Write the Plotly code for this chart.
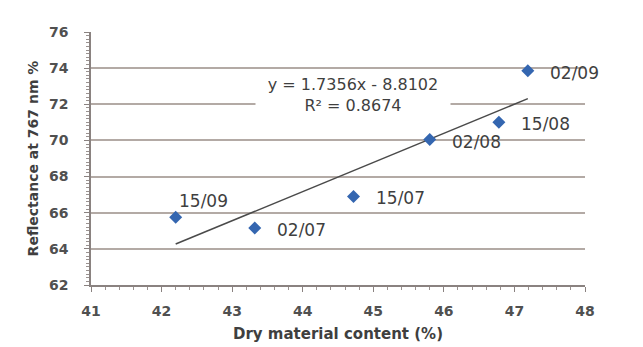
import numpy as np
import plotly.graph_objects as go

# Data
dates = ["15/09", "02/07", "15/07", "02/08", "15/08", "02/09"]
dry_matter = [42.2, 43.32, 44.72, 45.8, 46.78, 47.19]
reflectance = [65.75, 65.15, 66.9, 70.05, 71.0, 73.85]
label_side = ["above", "right", "right", "right", "right", "right"]
equation_text = "y = 1.7356x - 8.8102"
r2_text = "R² = 0.8674"
x_ticks = [41, 42, 43, 44, 45, 46, 47, 48]
y_ticks = [62, 64, 66, 68, 70, 72, 74, 76]

# Linear trend line computed from the data
slope, intercept = np.polyfit(dry_matter, reflectance, 1)
trend_x = [min(dry_matter), max(dry_matter)]
trend_y = [slope * v + intercept for v in trend_x]

text_color = "#3f3f3f"
font_family = "DejaVu Sans"

fig = go.Figure()
fig.add_trace(go.Scatter(
    x=trend_x, y=trend_y, mode="lines",
    line=dict(color="#4a4a4a", width=1.5),
    showlegend=False, hoverinfo="skip",
))
fig.add_trace(go.Scatter(
    x=dry_matter, y=reflectance, mode="markers",
    marker=dict(symbol="diamond", size=10, color="#3466b0"),
    showlegend=False,
))

# point labels
shifts = {"above": (1, 16), "right": (20, -2)}
for xv, yv, lab, side in zip(dry_matter, reflectance, dates, label_side):
    dx, dy = shifts[side]
    fig.add_annotation(
        x=xv, y=yv, xref="x", yref="y", text=lab, showarrow=False,
        xanchor="left", yanchor="middle", xshift=dx, yshift=dy,
        font=dict(family=font_family, size=17, color=text_color),
    )

# regression equation box (white background hides gridline)
fig.add_annotation(
    x=44.71, y=73.1, xref="x", yref="y", text=equation_text,
    showarrow=False, width=194, height=20, borderpad=0, bgcolor="white",
    font=dict(family=font_family, size=16, color=text_color),
)
fig.add_annotation(
    x=44.71, y=71.98, xref="x", yref="y", text=r2_text,
    showarrow=False, width=194, height=18, borderpad=0, bgcolor="white",
    font=dict(family=font_family, size=16, color=text_color),
)

fig.update_layout(
    width=643, height=347,
    margin=dict(l=83, r=66, t=24, b=70),
    paper_bgcolor="white", plot_bgcolor="white",
    font=dict(family=font_family, color=text_color),
)
fig.update_xaxes(
    range=[41, 48], tickvals=x_ticks,
    showgrid=False, zeroline=False,
    showline=True, linecolor="#8a8280", linewidth=1.5,
    ticks="outside", ticklen=5, tickcolor="#8a8280",
    ticklabelstandoff=7,
    minor=dict(dtick=0.2, ticks="outside", ticklen=3, tickcolor="#9a9290"),
    tickfont=dict(family=font_family, size=14, color="#505050", weight="bold"),
    title=dict(text="Dry material content (%)", standoff=11,
               font=dict(family=font_family, size=15, color=text_color, weight="bold")),
)
fig.update_yaxes(
    range=[62, 76], tickvals=y_ticks,
    showgrid=True, gridcolor="#b3aaa5", gridwidth=1.5,
    zeroline=False,
    showline=True, linecolor="#8a8280", linewidth=1.5,
    ticks="outside", ticklen=5, tickcolor="#8a8280",
    ticklabelstandoff=13,
    minor=dict(dtick=0.2, ticks="outside", ticklen=3, tickcolor="#9a9290", showgrid=False),
    tickfont=dict(family=font_family, size=14, color="#505050", weight="bold"),
    title=dict(text="Reflectance at 767 nm %", standoff=7,
               font=dict(family=font_family, size=14, color=text_color, weight="bold")),
)

fig.write_html("out.html")
